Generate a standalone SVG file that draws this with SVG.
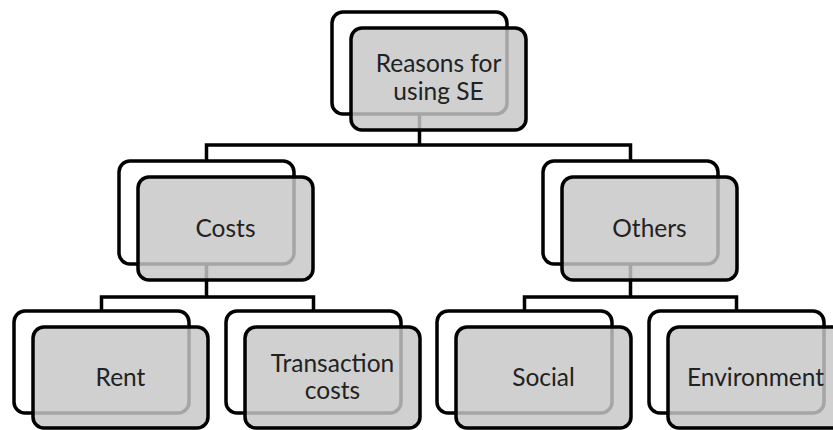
<svg xmlns="http://www.w3.org/2000/svg" width="833" height="430" viewBox="0 0 833 430">
<style>
.back{fill:#ffffff;stroke:#000;stroke-width:3.5}
.front{fill:rgb(198,198,198);fill-opacity:0.83;stroke:#000;stroke-width:3.5}
.lbl{font-family:Lato,"Open Sans","Liberation Sans",sans-serif;font-size:24.5px;fill:#222;text-anchor:middle}
.conn{fill:none;stroke:#000;stroke-width:3.5}
</style>
<rect width="833" height="430" fill="#fff"/>
<g id="connectors" class="conn">
<path d="M419.5 113 V145 H206.5 V161 M419.5 145 H630.5 V161"/>
<path d="M206.5 264 V297 H101.5 V311 M206.5 297 H313.5 V311"/>
<path d="M630.5 264 V297 H524.5 V311 M630.5 297 H736.5 V311"/>
</g>
<g id="node-reasons">
<rect class="back" x="332" y="12" width="175" height="102" rx="11"/>
<rect class="front" x="351" y="28" width="175" height="102" rx="11"/>
<text class="lbl" x="438.5" y="72">Reasons for</text>
<text class="lbl" x="438.5" y="100">using SE</text>
</g>
<g id="node-costs">
<rect class="back" x="119" y="161" width="175" height="103" rx="11"/>
<rect class="front" x="138" y="177" width="175" height="103" rx="11"/>
<text class="lbl" x="225.5" y="237">Costs</text>
</g>
<g id="node-others">
<rect class="back" x="543" y="161" width="175" height="103" rx="11"/>
<rect class="front" x="562" y="177" width="175" height="103" rx="11"/>
<text class="lbl" x="649.5" y="237">Others</text>
</g>
<g id="node-rent">
<rect class="back" x="14" y="311" width="175" height="102" rx="11"/>
<rect class="front" x="33" y="327" width="175" height="101" rx="11"/>
<text class="lbl" x="120.5" y="386">Rent</text>
</g>
<g id="node-transaction">
<rect class="back" x="226" y="311" width="175" height="102" rx="11"/>
<rect class="front" x="245" y="327" width="175" height="101" rx="11"/>
<text class="lbl" x="332.5" y="372">Transaction</text>
<text class="lbl" x="332.5" y="399">costs</text>
</g>
<g id="node-social">
<rect class="back" x="437" y="311" width="175" height="102" rx="11"/>
<rect class="front" x="456" y="327" width="175" height="101" rx="11"/>
<text class="lbl" x="543.5" y="386">Social</text>
</g>
<g id="node-environment">
<rect class="back" x="649" y="311" width="175" height="102" rx="11"/>
<rect class="front" x="668" y="327" width="175" height="101" rx="11"/>
<text class="lbl" x="755.5" y="386">Environment</text>
</g>
</svg>
